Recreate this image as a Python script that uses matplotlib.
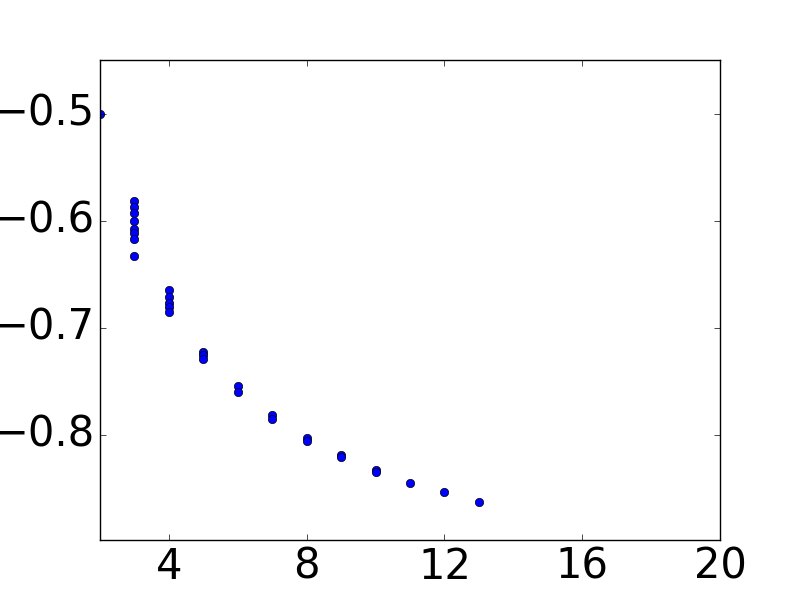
import matplotlib
matplotlib.use("Agg")
import matplotlib.pyplot as plt

# Data
x_vals = [2,
          3, 3, 3, 3, 3, 3, 3, 3,
          4, 4, 4, 4, 4,
          5, 5, 5,
          6, 6,
          7, 7,
          8, 8,
          9, 9, 10, 10, 11, 12, 13]
y_vals = [-0.500,
          -0.582, -0.587, -0.5925, -0.600, -0.6075, -0.612, -0.617, -0.633,
          -0.665, -0.671, -0.677, -0.681, -0.685,
          -0.7224, -0.726, -0.729,
          -0.755, -0.760,
          -0.782, -0.785,
          -0.803, -0.806,
          -0.819, -0.821, -0.833, -0.835, -0.845, -0.854, -0.863]

plt.style.use("classic")
fig = plt.figure(figsize=(8, 6), dpi=100)
ax = fig.add_axes([0.125, 0.1, 0.775, 0.8])

ax.plot(x_vals, y_vals, "o", color="blue", markeredgecolor="black",
        markersize=6)

ax.set_xlim(2, 20)
ax.set_ylim(-0.8985, -0.45)
ax.set_xticks([4, 8, 12, 16, 20])
ax.set_yticks([-0.5, -0.6, -0.7, -0.8])
ax.tick_params(labelsize=30)

fig.savefig("out.png", dpi=100)
